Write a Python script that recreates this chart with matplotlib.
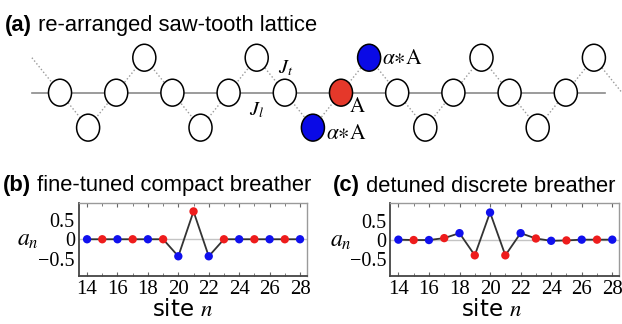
import numpy as np
import matplotlib
matplotlib.use("Agg")
import matplotlib.pyplot as plt
from matplotlib.patches import Ellipse
from matplotlib.ticker import MultipleLocator

plt.rcParams["mathtext.fontset"] = "stix"

# ---- data -------------------------------------------------------------
sites = np.arange(14, 29)
amp_compact = [0.0, 0.0, 0.0, 0.0, 0.0, 0.0, -0.44, 0.72, -0.44,
               0.0, 0.0, 0.0, 0.0, 0.0, 0.0]
amp_detuned = [0.0, -0.01, -0.01, 0.04, 0.17, -0.41, 0.71, -0.41, 0.17,
               0.03, -0.03, -0.02, 0.0, 0.0, 0.0]
RED = "#ee1c1c"
BLUE = "#1010ee"
site_colors = [BLUE if s % 2 == 0 else RED for s in sites]

xtick_vals = [14, 16, 18, 20, 22, 24, 26, 28]
ytick_vals = [-0.5, 0.0, 0.5]
ytick_labels = ["\u22120.5", "0", "0.5"]

# saw-tooth lattice: backbone sites 0..9, one side site per bond,
# alternating below / above the backbone
n_backbone = 10
side_positions = [-0.5 + k for k in range(n_backbone + 1)]   # bond midpoints
side_rows = [1 if k % 2 == 0 else -1 for k in range(n_backbone + 1)]
center_site = 5
blue_sides = [4.5, 5.5]

SANS = "Liberation Sans"
SERIF = "Liberation Serif"
TITLE_SIZE = 15.8

fig = plt.figure(figsize=(6.22, 3.24), dpi=100)


def panel_title(x, y, tag, text):
    t = fig.text(x, y, tag, fontsize=TITLE_SIZE, fontweight="bold",
                 family=SANS, ha="left", va="center")
    plt.annotate(" " + text, xy=(1, 0), xycoords=t, fontsize=TITLE_SIZE,
                 family=SANS, ha="left", va="bottom", annotation_clip=False)


# ---- (a) lattice ------------------------------------------------------
ax_a = fig.add_axes([0, 0.537, 1, 0.355])
ax_a.set_xlim(-1.068, 10.0)
ax_a.set_ylim(-1.64, 1.65)
ax_a.axis("off")

# backbone bonds J_l
ax_a.plot([-0.5, 9.7], [0, 0], color="#8a8a8a", lw=1.2, zorder=1)
# zig-zag bonds J_t
zz_x, zz_y = [], []
for k in range(n_backbone + 1):
    zz_x += [side_positions[k], side_positions[k] + 0.5]
    zz_y += [side_rows[k], 0]
ax_a.plot(zz_x, zz_y, color="#9a9a9a", lw=1.0, ls=(0, (1, 1.6)), zorder=1)

ew, eh = 0.41, 0.77
for k in range(n_backbone):
    fc = "#e5382a" if k == center_site else "white"
    ax_a.add_patch(Ellipse((k, 0), ew, eh, facecolor=fc, edgecolor="black",
                           lw=1.1, zorder=3))
for x, r in zip(side_positions, side_rows):
    if x < 0:
        continue
    fc = "#0a0ae6" if x in blue_sides else "white"
    ax_a.add_patch(Ellipse((x, r), ew, eh, facecolor=fc, edgecolor="black",
                           lw=1.1, zorder=3))

ax_a.text(4.02, 0.70, r"$J_t$", fontsize=14.5, ha="center", va="center")
ax_a.text(3.5, -0.50, r"$J_l$", fontsize=14.5, ha="center", va="center")
ax_a.text(5.73, 1.0, r"$\alpha{\ast}\mathrm{A}$", fontsize=15.5,
          ha="left", va="center")
ax_a.text(4.73, -1.15, r"$\alpha{\ast}\mathrm{A}$", fontsize=15.5,
          ha="left", va="center")
ax_a.text(5.14, -0.39, r"$\mathrm{A}$", fontsize=15, ha="left",
          va="center")

panel_title(5 / 622, 1 - 25 / 324, "(a)", "re-arranged saw-tooth lattice")


# ---- (b), (c) amplitude profiles -------------------------------------
def profile(rect, amps, label_x):
    ax = fig.add_axes(rect)
    ax.axhline(0, color="#c4c4c4", lw=1.0, zorder=1)
    ax.plot(sites, amps, color="#333333", lw=1.3, zorder=2)
    ax.scatter(sites, amps, c=site_colors, s=36, zorder=3, linewidths=0)
    ax.set_xlim(13.47, 28.46)
    ax.set_ylim(-0.95, 0.95)
    ax.set_xticks(xtick_vals)
    ax.set_xticklabels([str(v) for v in xtick_vals], family=SERIF,
                       fontsize=15)
    ax.xaxis.set_minor_locator(MultipleLocator(1))
    ax.set_yticks(ytick_vals)
    ax.set_yticklabels(ytick_labels, family=SERIF, fontsize=14.5)
    ax.tick_params(axis="both", which="both", direction="in",
                   color="#666666", top=True)
    ax.tick_params(axis="x", which="major", length=3, width=0.8, pad=3)
    ax.tick_params(axis="x", which="minor", length=2, width=0.6)
    ax.tick_params(axis="y", which="major", length=0, pad=3)
    for side, sp in ax.spines.items():
        sp.set_color("#444444" if side in ("left", "bottom") else "#9a9a9a")
        sp.set_linewidth(1.3 if side in ("left", "bottom") else 1.0)
    ax.text(label_x, 0.50, r"$a_n$", transform=ax.transAxes, fontsize=17,
            ha="center", va="center")
    return ax


ax_b = profile([79 / 622, 48 / 324, 228 / 622, 73.5 / 324], amp_compact,
               -0.224)
ax_c = profile([390.3 / 622, 48 / 324, 229 / 622, 72.7 / 324], amp_detuned,
               -0.215)

for cx in (183, 492):
    fig.text(cx / 622, 1 - 309 / 324, r"site $n$", fontsize=16.5,
             family="DejaVu Sans", ha="center", va="center")

panel_title(3 / 622, 1 - 186 / 324, "(b)", "fine-tuned compact breather")
panel_title(333 / 622, 1 - 186 / 324, "(c)", "detuned discrete breather")

fig.savefig("out.png", dpi=100)
